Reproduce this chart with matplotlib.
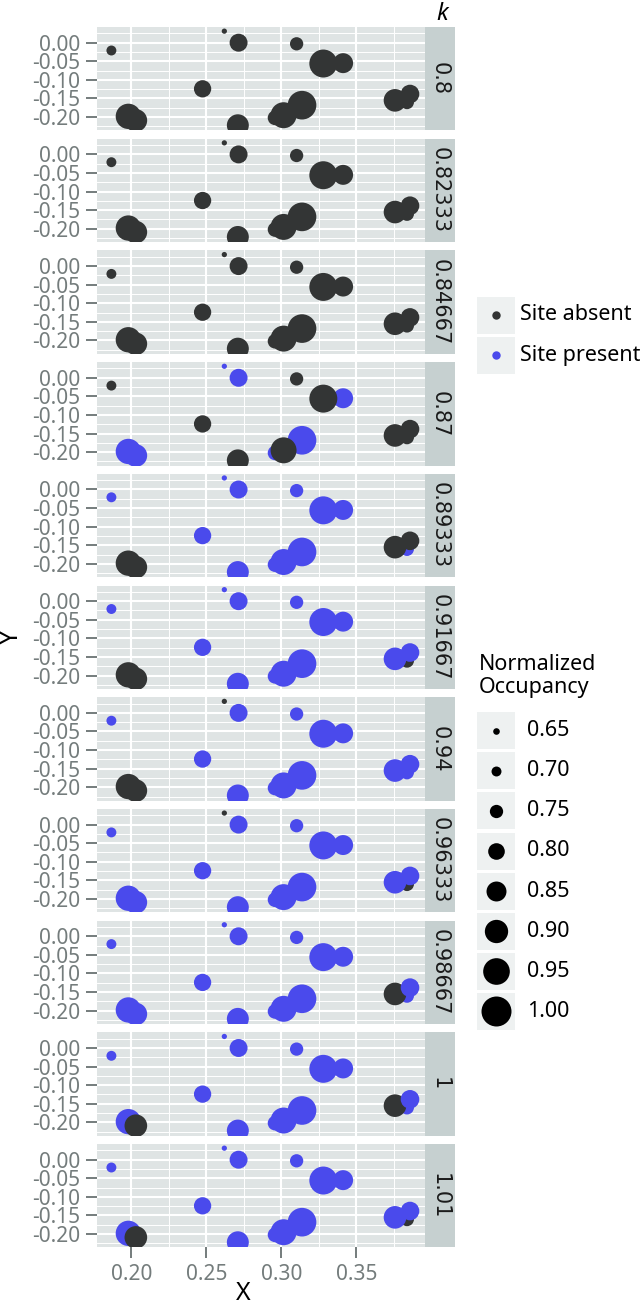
import numpy as np
import matplotlib
matplotlib.use("Agg")
import matplotlib.pyplot as plt
from matplotlib.patches import Rectangle

plt.rcParams['font.family'] = ['Noto Sans', 'DejaVu Sans']

# site coordinates and normalized occupancy (drawing order)
site_x = [0.1867, 0.2620, 0.2715, 0.3102, 0.2475, 0.2710, 0.3412, 0.3280,
          0.1980, 0.2030, 0.2958, 0.3138, 0.3015, 0.3838, 0.3758, 0.3858]
site_y = [-0.021, 0.031, 0.000, -0.003, -0.124, -0.222, -0.055, -0.056,
          -0.198, -0.209, -0.202, -0.168, -0.195, -0.160, -0.155, -0.138]
site_occ = [0.70, 0.63, 0.82, 0.75, 0.81, 0.88, 0.85, 0.97,
            0.93, 0.89, 0.77, 0.98, 0.94, 0.76, 0.89, 0.83]

# facet values of k and site presence (1 = present) per site
k_labels = ["0.8", "0.82333", "0.84667", "0.87", "0.89333", "0.91667",
            "0.94", "0.96333", "0.98667", "1", "1.01"]
presence = ["0000000000000000",
            "0000000000000000",
            "0000000000000000",
            "0110001011110000",
            "1111111100111100",
            "1111111100111011",
            "1011111100111111",
            "1011111111111011",
            "1111111111111101",
            "1111111110111101",
            "1111111110111011"]

legend_occ = [0.65, 0.70, 0.75, 0.80, 0.85, 0.90, 0.95, 1.00]
x_ticks = [0.20, 0.25, 0.30, 0.35]
y_ticks = [0.00, -0.05, -0.10, -0.15, -0.20]

BLACK = "#333535"
BLUE = "#4A4AEC"
PANEL_BG = "#DFE4E4"
STRIP_BG = "#C6D0D0"
KEY_BG = "#EEF1F1"
TICK_GREY = "#747C7C"

W, H = 640, 1308
fig = plt.figure(figsize=(W / 100, H / 100), dpi=100)


def px_axes(x0, y0, w, h):
    return fig.add_axes([x0 / W, 1 - (y0 + h) / H, w / W, h / H])


def marker_s(v):
    r = 3.3 + (np.asarray(v) - 0.65) * 33.4   # radius in pixels
    return (2 * r * 0.72) ** 2


sizes = marker_s(site_occ)
n = len(k_labels)
left, pw, top0, ph, pitch = 97, 328, 27, 103.4, 111.7

for i, k in enumerate(k_labels):
    top = top0 + i * pitch
    ax = px_axes(left, top, pw, ph)
    ax.set_facecolor(PANEL_BG)
    ax.set_xlim(0.1771, 0.3958)
    ax.set_ylim(-0.2358, 0.0422)
    ax.set_xticks(x_ticks)
    ax.set_yticks(y_ticks)
    ax.set_xticks([0.225, 0.275, 0.325, 0.375], minor=True)
    ax.set_yticks([0.025, -0.025, -0.075, -0.125, -0.175, -0.225], minor=True)
    ax.grid(which='major', color='white', lw=1.5)
    ax.grid(which='minor', color='white', lw=0.7)
    ax.set_axisbelow(True)
    for sp in ax.spines.values():
        sp.set_visible(False)
    ax.set_yticklabels(["%.2f" % t for t in y_ticks])
    ax.tick_params(axis='both', which='major', length=8, width=1.4,
                   color=TICK_GREY, labelcolor=TICK_GREY, labelsize=15, pad=4)
    ax.tick_params(which='minor', length=0)
    if i < n - 1:
        ax.tick_params(axis='x', which='both', bottom=False, labelbottom=False)
    else:
        ax.set_xticklabels(["%.2f" % t for t in x_ticks])

    cols = [BLUE if c == "1" else BLACK for c in presence[i]]
    ax.scatter(site_x, site_y, s=sizes, c=cols, linewidths=0, zorder=3)

    sax = px_axes(425, top, 30, ph)
    sax.set_facecolor(STRIP_BG)
    sax.set_xticks([])
    sax.set_yticks([])
    for sp in sax.spines.values():
        sp.set_visible(False)
    sax.text(0.5, 0.5, k, rotation=-90, ha='center', va='center',
             fontsize=15, color='#1A1A1A', transform=sax.transAxes,
             family='DejaVu Sans')

# overlay in pixel coordinates for titles and legends
ov = fig.add_axes([0, 0, 1, 1])
ov.set_xlim(0, W)
ov.set_ylim(H, 0)
ov.axis('off')

ov.text(442, 14, "k", style='italic', fontsize=17, ha='center', va='center')
ov.text(243, 1294, "X", fontsize=18, ha='center', va='center')
ov.text(11, 637, "Y", fontsize=18, ha='center', va='center', rotation=90)

# colour legend
for j, (lab, col) in enumerate([("Site absent", BLACK), ("Site present", BLUE)]):
    cy = 315 + j * 40
    ov.add_patch(Rectangle((477, cy - 18.5), 37.5, 37, color=KEY_BG, lw=0))
    ov.scatter([496], [cy], s=(2 * 4.2 * 0.72) ** 2, c=col, linewidths=0)
    ov.text(520, cy, lab, fontsize=15.5, ha='left', va='center')

# size legend
ov.text(479, 676, "Normalized\nOccupancy", fontsize=15.5, ha='left', va='center',
        linespacing=1.15)
for j, v in enumerate(legend_occ):
    cy = 730.7 + j * 40.1
    ov.add_patch(Rectangle((477, cy - 18.5), 37.5, 37, color=KEY_BG, lw=0))
    ov.scatter([496], [cy], s=marker_s(v), c='black', linewidths=0)
    ov.text(527, cy, "%.2f" % v, fontsize=15.5, ha='left', va='center')

fig.savefig("out.png", dpi=100)
